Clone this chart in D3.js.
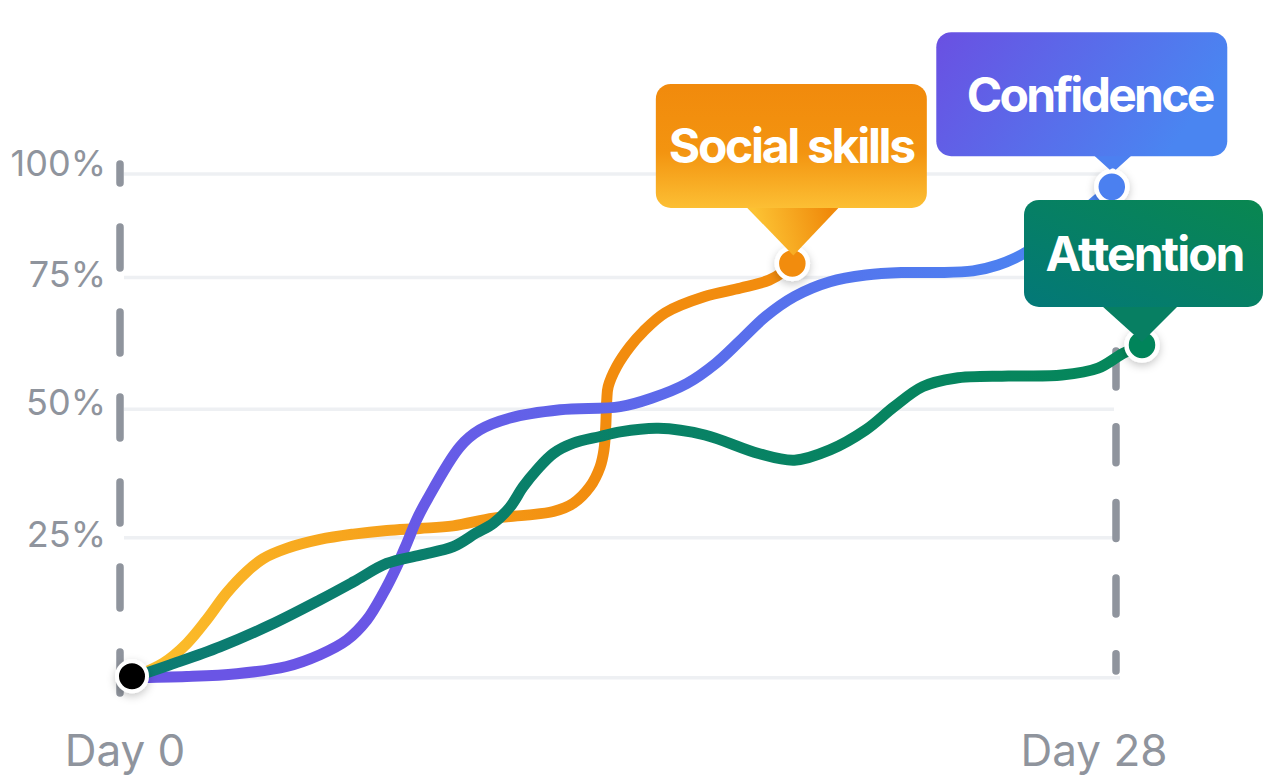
<!DOCTYPE html>
<html><head><meta charset="utf-8">
<script src="https://cdn.jsdelivr.net/npm/d3@7"></script>
<style>html,body{margin:0;padding:0;background:#fff;overflow:hidden}</style>
</head><body>
<svg id="chart" width="1264" height="778"></svg>
<script>
// ---- data ----
const yTicks = [0, 25, 50, 75, 100];
const yTickLabels = ["", "25%", "50%", "75%", "100%"];
const xTicks = [0, 28];
const xTickLabels = ["Day 0", "Day 28"];
const seriesNames = ["Social skills", "Confidence", "Attention"];

// [day, percent]
const socialSkills = [
  [0,0],[0.89,2.6],[1.56,6.1],[2.12,10.3],[2.69,15.1],[3.26,18.9],[3.74,21.3],[4.40,23.1],
  [5.35,24.7],[6.30,25.7],[7.25,26.4],[8.19,26.8],[9.14,27.3],[10.28,28.8],[11.23,29.4],
  [11.99,30.1],[12.56,31.7],[13.03,34.9],[13.32,38.8],[13.43,42.1],[13.48,46.6],[13.51,51.8],
  [13.55,54.3],[13.79,58.1],[14.17,61.9],[14.54,64.7],[15.17,68.3],[16.30,71.4],
  [17.32,73.0],[18.13,74.5],[18.54,76.4],[18.79,78.4]
];
const confidence = [
  [0,0],[1.56,0.2],[2.98,0.7],[4.40,2.0],[5.35,4.1],[6.11,6.7],[6.68,10.3],[7.15,15.1],
  [7.53,19.8],[7.82,24.0],[8.10,28.5],[8.39,32.3],[9.33,42.7],[9.90,46.0],[10.76,48.3],
  [12.18,49.9],[13.89,50.5],[14.78,52.1],[15.79,54.9],[16.61,58.7],[17.32,63.1],[18.03,67.6],
  [18.85,71.4],[19.86,74.2],[20.88,75.6],[21.89,76.2],[22.91,76.2],[23.93,76.6],[24.64,78.0],
  [25.40,80.9],[26.69,88.4],[27.88,96.9]
];
const attention = [
  [0,0],[1.08,2.3],[2.50,5.5],[3.93,9.4],[5.35,13.9],[6.30,17.1],[7.25,20.4],[8.20,21.9],
  [9.14,23.4],[9.79,25.9],[10.28,27.8],[10.76,31.0],[11.13,34.9],[11.52,38.2],[11.99,41.4],
  [12.56,43.4],[13.32,44.7],[13.89,45.6],[14.98,46.3],[16.30,45.0],[17.83,41.4],[18.85,40.1],
  [19.86,42.1],[20.88,46.0],[21.69,50.5],[22.50,54.3],[23.42,55.9],[24.94,56.3],[26.46,56.5],
  [27.49,57.8],[28.20,60.6],[28.74,62.2]
];

// ---- drawing ----
const svg = d3.select("#chart");
const x = d3.scaleLinear().domain([0, 28]).range([132, 1116]);
const y = d3.scaleLinear().domain([0, 25, 50, 75, 100]).range([677.7, 537.7, 409.3, 277.5, 174]);
const yLabel = d3.scaleLinear().domain([25, 50, 75, 100]).range([547, 415, 287, 176]);

const defs = svg.append("defs");
function lin(id, x1, y1, x2, y2, stops, user) {
  const g = defs.append("linearGradient").attr("id", id)
    .attr("x1", x1).attr("y1", y1).attr("x2", x2).attr("y2", y2);
  if (user) g.attr("gradientUnits", "userSpaceOnUse");
  stops.forEach(s => g.append("stop").attr("offset", s[0]).attr("stop-color", s[1]));
}
lin("gOrangeLine", 140, 670, 560, 420, [[0, "#fcbf2c"], [1, "#f28c0e"]], true);
lin("gBlueLine", 350, 0, 1050, 0, [[0, "#6a55e5"], [1, "#4b83f1"]], true);
lin("gGreenLine", 140, 0, 1140, 0, [[0, "#0c7b73"], [1, "#05875a"]], true);
lin("gSocialBox", 0, 0, 0, 1, [[0, "#f18a0c"], [0.55, "#f39410"], [1, "#fcbf34"]]);
lin("gSocialPtr", 0.1, 0.2, 0.9, 0.1, [[0, "#fcc233"], [1, "#f08a0b"]]);
lin("gConfBox", 0, 0, 1, 0.3, [[0, "#6a50e2"], [1, "#4a85f1"]]);
lin("gAttBox", 0, 1, 1, 0, [[0, "#037878"], [1, "#098750"]]);

const f = defs.append("filter").attr("id", "shadow").attr("x", "-50%").attr("y", "-50%").attr("width", "200%").attr("height", "200%");
f.append("feDropShadow").attr("dx", 0).attr("dy", 3).attr("stdDeviation", 4).attr("flood-color", "#000").attr("flood-opacity", 0.22);

// gridlines
svg.append("g").selectAll("line").data(yTicks).join("line")
  .attr("x1", 124).attr("x2", d => d === 0 ? 1120 : 1114)
  .attr("y1", d => y(d)).attr("y2", d => y(d))
  .attr("stroke", "#eef0f3").attr("stroke-width", 3.5);

// y labels
svg.append("g").selectAll("text").data(yTicks.slice(1)).join("text")
  .attr("x", 106).attr("y", d => yLabel(d))
  .attr("text-anchor", "end")
  .attr("font-family", "Inter, 'Noto Sans', sans-serif")
  .attr("font-size", 36).attr("fill", "#8f949d")
  .text((d, i) => yTickLabels[i + 1]);

// x labels
svg.append("g").selectAll("text").data(xTicks).join("text")
  .attr("x", (d, i) => i === 0 ? x(d) - 7 : x(d) - 22).attr("y", 766)
  .attr("text-anchor", "middle")
  .attr("font-family", "Inter, 'Noto Sans', sans-serif")
  .attr("font-size", 44).attr("fill", "#8f949d")
  .text((d, i) => xTickLabels[i]);

// dashed verticals
svg.append("line").attr("x1", x(0) - 12).attr("x2", x(0) - 12).attr("y1", 693).attr("y2", 164)
  .attr("stroke", "#8f949d").attr("stroke-width", 7.5).attr("stroke-linecap", "round")
  .attr("stroke-dasharray", "41 44");
svg.append("line").attr("x1", x(28)).attr("x2", x(28)).attr("y1", 351).attr("y2", 671)
  .attr("stroke", "#8f949d").attr("stroke-width", 7.5).attr("stroke-linecap", "round")
  .attr("stroke-dasharray", "36 39.7");

// lines
const line = d3.line().x(d => x(d[0])).y(d => y(d[1])).curve(d3.curveCatmullRom.alpha(0.5));
const series = [
  { name: seriesNames[0], data: socialSkills, stroke: "url(#gOrangeLine)", dot: "#f28c0e" },
  { name: seriesNames[1], data: confidence, stroke: "url(#gBlueLine)", dot: "#4c80f0" },
  { name: seriesNames[2], data: attention, stroke: "url(#gGreenLine)", dot: "#06845a" }
];
svg.append("g").selectAll("path").data(series).join("path")
  .attr("d", d => line(d.data))
  .attr("fill", "none").attr("stroke", d => d.stroke)
  .attr("stroke-width", 11).attr("stroke-linecap", "round").attr("stroke-linejoin", "round");

// start dot
svg.append("circle").attr("cx", x(0)).attr("cy", y(0) - 1.5).attr("r", 15)
  .attr("fill", "#000").attr("stroke", "#fff").attr("stroke-width", 4)
  .attr("filter", "url(#shadow)");

// end dots
const ends = series.map(s => ({ ...s, p: s.data[s.data.length - 1] }));
svg.append("g").selectAll("circle").data(ends).join("circle")
  .attr("cx", d => x(d.p[0])).attr("cy", d => y(d.p[1])).attr("r", 15.5)
  .attr("fill", d => d.dot).attr("stroke", "#fff").attr("stroke-width", 4.5)
  .attr("filter", "url(#shadow)");

// labels
const font = "Inter, 'Noto Sans', sans-serif";
function label(s, o) {
  const px = x(s.p[0]), py = y(s.p[1]);
  const g = svg.append("g");
  const bx = px + o.dx - o.w / 2, by = py + o.dy - o.h;
  g.append("path").attr("d", o.ptr(px, py, by + o.h)).attr("fill", o.ptrFill);
  g.append("rect").attr("x", bx).attr("y", by).attr("width", o.w).attr("height", o.h)
    .attr("rx", 15).attr("fill", o.fill);
  g.append("text").attr("x", px + o.tdx).attr("y", by + o.h / 2 + 17.5)
    .attr("text-anchor", "middle").attr("font-family", font).attr("font-weight", 700)
    .attr("font-size", 48).attr("letter-spacing", o.ls).attr("fill", "#fff")
    .text(s.name);
}
label(ends[0], {
  dx: -1, dy: -55.5, w: 271, h: 124, tdx: -1, ls: -2.3,
  fill: "url(#gSocialBox)", ptrFill: "url(#gSocialPtr)",
  ptr: (px, py, b) => `M${px - 46},${b - 1}L${px + 47},${b - 1}L${px + 1},${py - 8}Z`
});
label(ends[1], {
  dx: -30, dy: -30.7, w: 291, h: 124, tdx: -22, ls: -2.7,
  fill: "url(#gConfBox)", ptrFill: "#4c80f0",
  ptr: (px, py, b) => `M${px - 18},${b - 1}L${px + 20},${b - 1}L${px + 4},${py - 17}Q${px + 1},${py - 20} ${px - 2},${py - 17}Z`
});
label(ends[2], {
  dx: 1.5, dy: -38, w: 239, h: 107, tdx: 2.5, ls: -2.0,
  fill: "url(#gAttBox)", ptrFill: "#077f62",
  ptr: (px, py, b) => `M${px - 40},${b - 1}L${px + 36},${b - 1}L${px},${py - 3}Z`
});
</script>
</body></html>
